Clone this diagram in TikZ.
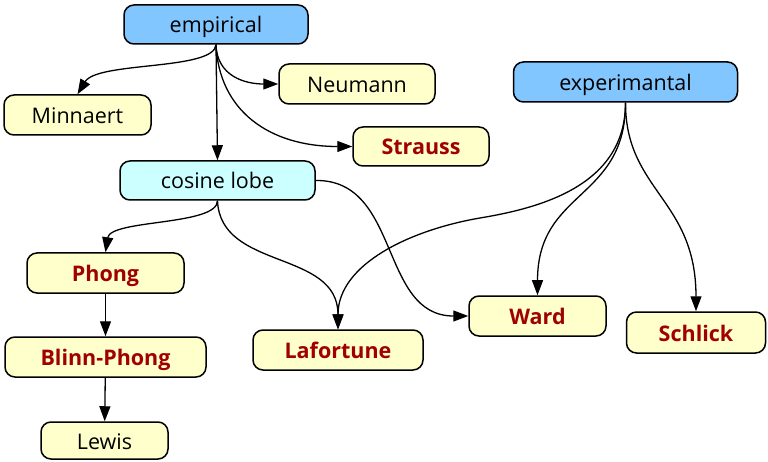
\documentclass[tikz,border=0pt]{standalone}
\usepackage{fontspec}
\setmainfont{Open Sans}
\usetikzlibrary{arrows.meta}
\definecolor{bluefill}{RGB}{130,198,255}
\definecolor{cyanfill}{RGB}{204,255,255}
\definecolor{yellowfill}{RGB}{255,255,204}
\definecolor{darkred}{RGB}{160,0,0}
\tikzset{
  box/.style={draw=black, line width=1.5pt, rounded corners=10pt, inner sep=0pt,
    minimum height=39pt, text height=19pt, text depth=2pt,
    font=\fontsize{21.5}{25}\selectfont},
  topbox/.style={box, fill=bluefill},
  midbox/.style={box, fill=cyanfill},
  leaf/.style={box, fill=yellowfill},
  redleaf/.style={leaf, text=darkred, font=\fontsize{21.5}{25}\selectfont\bfseries},
  edge/.style={draw=black, line width=1.3pt, -{Triangle[length=15pt,width=11pt]}},
}
\begin{document}
\begin{tikzpicture}[x=1pt,y=-1pt]
\useasboundingbox (0,0) rectangle (768,462);
\node[topbox, minimum width=184pt] (emp) at (216,24.5) {empirical};
\node[leaf, minimum width=147pt, minimum height=40pt] (minn) at (77.5,115) {Minnaert};
\node[leaf, minimum width=156pt, minimum height=40pt] (neu) at (357,84) {Neumann};
\node[redleaf, minimum width=136pt] (str) at (421,146.5) {Strauss};
\node[midbox, minimum width=195pt] (cos) at (217.5,180.5) {cosine lobe};
\node[topbox, minimum width=224pt, minimum height=40pt] (exp) at (625.5,82) {experimantal};
\node[redleaf, minimum width=157pt, minimum height=40pt] (pho) at (105.5,273) {Phong};
\node[redleaf, minimum width=201pt, minimum height=40pt] (bli) at (105.5,357) {Blinn-Phong};
\node[leaf, minimum width=127pt, minimum height=37pt] (lew) at (104.5,440.5) {Lewis};
\node[redleaf, minimum width=170pt, minimum height=40pt] (laf) at (338,350) {Lafortune};
\node[redleaf, minimum width=137pt, minimum height=40pt] (war) at (537.5,316) {Ward};
\node[redleaf, minimum width=139pt, minimum height=41pt] (sch) at (696,332.5) {Schlick};

\draw[edge] (emp.south) .. controls +(-2,26) and +(20,-33) .. (minn.north);
\draw[edge] (emp.south) .. controls +(1,31) and +(-34,0) .. (neu.west);
\draw[edge] (emp.south) .. controls +(3,66) and +(-83,0) .. (str.west);
\draw[edge] (emp.south) -- (cos.north);
\draw[edge] (cos.south) .. controls +(0,25) and +(5,-33) .. (pho.north);
\draw[edge] (cos.south) .. controls +(3,70) and +(0,-80) .. (laf.north);
\draw[edge] (cos.east) .. controls +(85,-1) and +(-89,0) .. (war.west);
\draw[edge] (exp.south) .. controls +(0,83) and +(60,-10) .. (480,218) .. controls +(-70,12) and +(0,-65) .. (laf.north);
\draw[edge] (exp.south) .. controls +(0,98) and +(0,-106) .. (war.north);
\draw[edge] (exp.south) .. controls +(0,88) and +(0,-112) .. (sch.north);
\draw[edge] (pho) -- (bli);
\draw[edge] (bli) -- (lew);
\end{tikzpicture}
\end{document}
